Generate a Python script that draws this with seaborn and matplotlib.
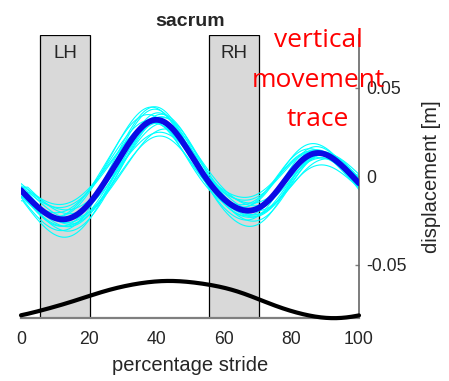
import numpy as np
import pandas as pd
import matplotlib
matplotlib.use("Agg")
import matplotlib.pyplot as plt
import seaborn as sns

# ---- data ----
stride_pct = [0, 5, 10, 15, 20, 25, 30, 35, 40, 45, 50, 55, 60, 65, 70, 75, 80, 85, 90, 95, 100]
mean_disp = [-0.0083, -0.0164, -0.0243, -0.0233, -0.0153, -0.0027, 0.0124, 0.0266, 0.0322,
             0.0256, 0.0134, -0.0017, -0.0130, -0.0190, -0.0177, -0.0102, 0.0021, 0.0119,
             0.0124, 0.0058, -0.0040]
ref_trace = [-0.0785, -0.0761, -0.0737, -0.0708, -0.0676, -0.0648, -0.0623, -0.0605, -0.0593,
             -0.0592, -0.0597, -0.0610, -0.0629, -0.0657, -0.0691, -0.0729, -0.0761, -0.0785,
             -0.0798, -0.0800, -0.0785]
# individual strides: amplitude scale, vertical offset [m], phase shift [% stride]
trace_scale = [1.00, 1.15, 0.85, 1.07, 0.93, 1.25, 0.78, 1.10, 0.90, 1.20, 0.87, 1.03, 0.96,
               1.13, 0.82, 1.04, 0.91, 1.22]
trace_offset = [0.001, -0.003, 0.003, -0.001, 0.002, -0.004, 0.000, 0.004, -0.002, 0.001,
                -0.005, 0.002, 0.000, -0.001, 0.004, -0.003, 0.001, -0.001]
trace_shift = [0.0, 1.5, -1.0, 2.0, -2.0, 0.5, 1.0, -1.5, 2.5, -0.5, 1.0, -2.5, 0.0, 1.5,
               -1.0, 0.5, 2.0, -0.5]
hoof_labels = ["LH", "RH"]
hoof_start = [5.5, 55.5]
hoof_end = [20.5, 70.5]
x_ticks = [0, 20, 40, 60, 80, 100]
y_ticks = [-0.05, 0, 0.05]
y_ticklabels = ["-0.05", "0", "0.05"]


def smooth(xk, yk, xd, n_harm=5, period=100.0):
    xk = np.asarray(xk, float)
    yk = np.asarray(yk, float)

    def basis(x):
        cols = [np.ones_like(x), x / period]
        for k in range(1, n_harm + 1):
            cols.append(np.cos(2 * np.pi * k * x / period))
            cols.append(np.sin(2 * np.pi * k * x / period))
        return np.column_stack(cols)

    coef, *_ = np.linalg.lstsq(basis(xk), yk, rcond=None)
    return basis(np.asarray(xd, float)) @ coef


xd = np.linspace(0, 100, 401)
mean_d = smooth(stride_pct, mean_disp, xd)
ref_d = smooth(stride_pct, ref_trace, xd)

rows = []
for i, (s, o, sh) in enumerate(zip(trace_scale, trace_offset, trace_shift)):
    yv = s * np.interp(xd - sh, xd, mean_d) + o
    rows.append(pd.DataFrame({"x": xd, "y": yv, "stride": i}))
traces_df = pd.concat(rows, ignore_index=True)
mean_df = pd.DataFrame({"x": xd, "y": mean_d})
ref_df = pd.DataFrame({"x": xd, "y": ref_d})

sns.set_style("white")
plt.rcParams["font.family"] = ["Liberation Sans", "DejaVu Sans"]
txt = "#262626"

fig = plt.figure(figsize=(4.49, 3.81), dpi=100)
ax = fig.add_axes([21 / 449, 1 - 318 / 381, (359 - 21) / 449, (318 - 34.5) / 381])

for lab, a, b in zip(hoof_labels, hoof_start, hoof_end):
    ax.axvspan(a, b, facecolor="#d9d9d9", edgecolor="black", linewidth=0.9, zorder=1)
    ax.text((a + b) / 2, 0.0695, lab, ha="center", va="center", fontsize=13.5, color=txt, zorder=5)

sns.lineplot(data=traces_df, x="x", y="y", units="stride", estimator=None, color="#00ffff",
             linewidth=0.8, ax=ax, zorder=2)
sns.lineplot(data=mean_df, x="x", y="y", color="#0a0ae6", linewidth=4.2, ax=ax, zorder=3)
sns.lineplot(data=ref_df, x="x", y="y", color="black", linewidth=3, ax=ax, zorder=3)
for ln in ax.lines[-1:]:
    ln.set_clip_on(False)

ax.set_xlim(0, 100)
ax.set_ylim(-0.08, 0.08)
ax.set_xticks(x_ticks)
ax.set_yticks(y_ticks)
ax.set_yticklabels(y_ticklabels)
ax.yaxis.tick_right()
ax.yaxis.set_label_position("right")
ax.tick_params(axis="x", direction="in", length=3, width=1, color="#7f7f7f", pad=9,
               labelsize=12.7, labelcolor=txt)
ax.tick_params(axis="y", direction="in", length=3, width=1, color="#7f7f7f", pad=5,
               labelsize=12.7, labelcolor=txt, left=False, right=True)
for side in ["top", "left"]:
    ax.spines[side].set_visible(False)
ax.spines["bottom"].set_color("#7f7f7f")
ax.spines["bottom"].set_linewidth(1.6)
ax.spines["right"].set_color("#666666")
ax.spines["right"].set_linewidth(1.2)

ax.set_xlabel("percentage stride", fontsize=14.5, color=txt, labelpad=6)
ax.set_ylabel("displacement [m]", fontsize=14.5, color=txt, labelpad=11)
ax.set_title("sacrum", fontsize=14, fontweight="bold", color=txt, pad=6)

ax.text(87.9, 0.0543, "vertical\nmovement\ntrace", color="red", fontsize=19,
        family=["Open Sans", "DejaVu Sans"], ha="center", va="center", linespacing=1.75,
        zorder=6, clip_on=False)

fig.savefig("out.png", dpi=100)
